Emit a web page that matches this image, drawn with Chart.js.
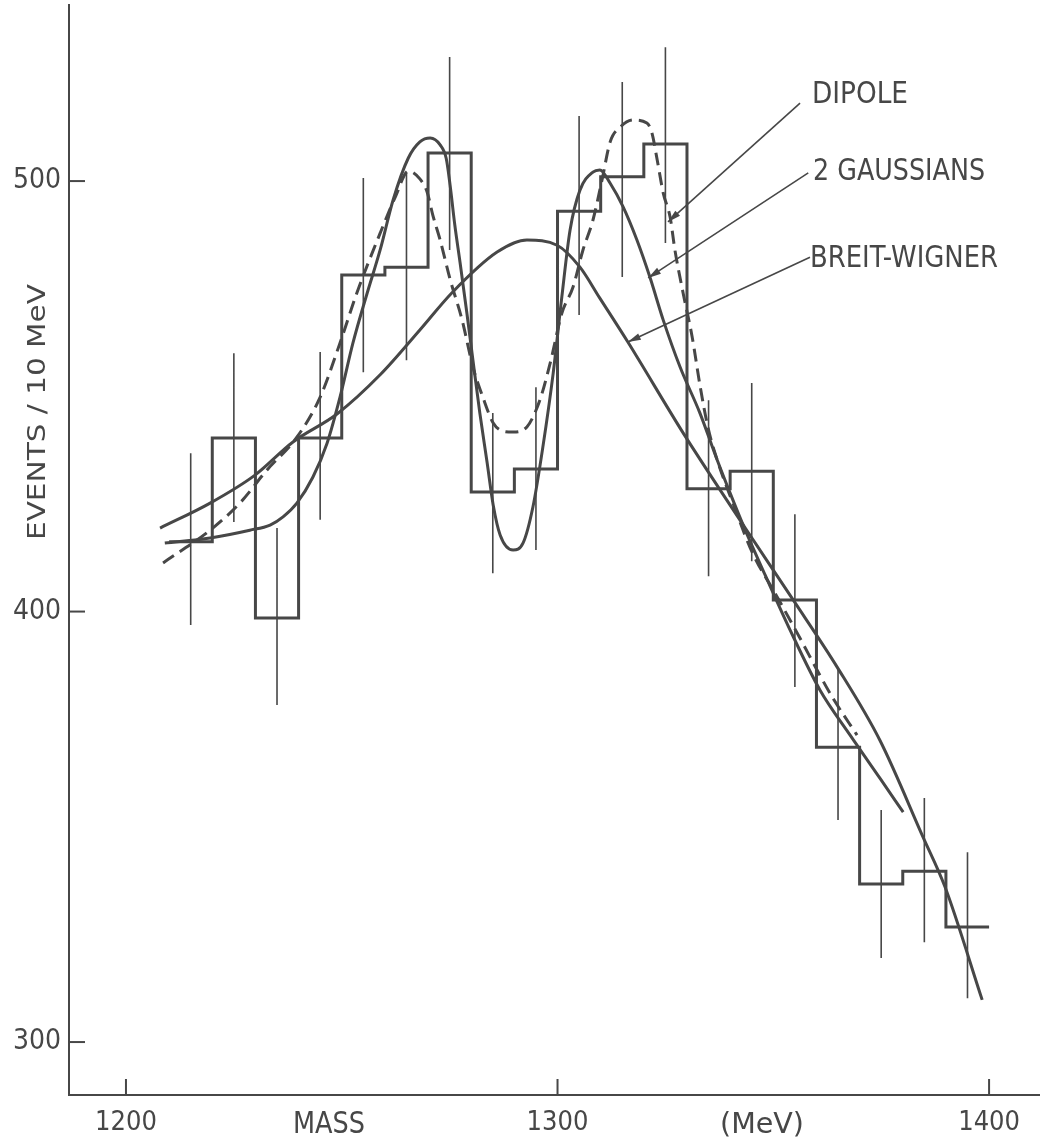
<!DOCTYPE html>
<html><head><meta charset="utf-8">
<script src="https://cdn.jsdelivr.net/npm/chart.js@4.4.1/dist/chart.umd.min.js"></script>
<style>html,body{margin:0;padding:0;background:#fff;}canvas{display:block;}</style>
</head><body>
<canvas id="c" width="1040" height="1137"></canvas>
<script>
// ---------- data ----------
const massBins = [1215,1225,1235,1245,1255,1265,1275,1285,1295,1305,1315,1325,1335,1345,1355,1365,1375,1385,1395];
const binWidth = 10;
const eventsPerBin = [416.2,440.3,398.5,440.3,478.2,480.0,506.5,427.8,433.1,493.0,501.0,508.6,428.5,432.6,402.7,368.5,336.7,339.7,326.7];
const errLow  = [396.9,420.8,378.3,421.3,455.6,458.4,484.0,408.9,414.3,468.9,477.7,485.6,408.2,411.7,382.5,351.6,319.5,323.2,310.2];
const errHigh = [436.8,460.0,419.4,460.3,500.7,501.9,528.8,446.1,452.1,515.1,523.0,531.1,449.1,453.1,422.6,387.1,353.9,356.7,344.1];

const bwMass   = [1207.9,1219.5,1229.9,1238.7,1248.9,1258.9,1268.1,1275.5,1286.0,1292.9,1299.9,1305.2,1309.8,1316.3,1329.1,1337.7,1343.5,1354.6,1364.8,1374.7,1384.7,1389.8,1398.4];
const bwEvents = [419.4,425.2,431.7,439.4,445.9,455.0,465.4,474.0,483.5,486.3,485.1,480.0,472.8,462.6,441.5,428.2,419.4,402.7,387.1,370.1,347.6,336.0,309.8];

const gaussMass   = [1209.0,1219.5,1228.7,1233.4,1236.4,1239.6,1243.3,1246.6,1249.6,1252.6,1255.9,1258.9,1261.9,1265.4,1268.1,1270.5,1272.8,1274.2,1275.1,1276.2,1277.4,1279.0,1280.4,1282.0,1283.7,1285.1,1286.7,1289.7,1292.0,1294.3,1296.6,1299.0,1301.0,1302.9,1305.2,1308.2,1309.8,1312.2,1315.2,1318.4,1321.4,1324.5,1328.4,1333.0,1337.0,1340.0,1343.5,1348.1,1353.9,1360.8,1367.8,1374.7,1380.1];
const gaussEvents = [415.9,417.1,418.9,420.1,422.0,425.2,431.2,439.1,449.8,462.4,474.0,484.0,495.6,505.3,509.1,510.0,508.4,505.3,499.1,489.8,481.2,469.3,458.4,446.1,434.5,424.7,417.8,414.3,415.9,424.3,438.2,455.4,473.1,488.6,497.9,502.1,502.6,499.5,494.0,486.3,477.7,467.7,456.8,446.1,435.2,427.5,418.9,408.5,395.7,381.8,371.3,361.3,353.4];

const dipoleMass   = [1208.6,1219.5,1226.4,1232.7,1239.6,1245.0,1249.6,1253.5,1258.9,1262.5,1265.4,1268.1,1269.8,1271.1,1272.8,1275.1,1277.9,1280.4,1282.7,1285.1,1287.4,1289.7,1292.9,1295.9,1298.3,1301.0,1303.6,1305.9,1308.2,1310.3,1312.2,1314.5,1317.5,1320.7,1321.9,1323.1,1324.5,1326.1,1327.2,1329.1,1331.2,1333.0,1334.9,1337.0,1341.1,1345.1,1350.9,1356.2,1360.8,1363.8,1369.4];
const dipoleEvents = [411.3,418.9,425.2,432.9,440.5,449.8,462.4,474.0,487.9,496.5,502.3,500.5,497.4,492.1,486.3,477.2,467.7,456.8,449.8,443.8,441.9,441.7,442.9,449.1,457.7,469.3,475.4,484.0,490.9,500.2,509.1,512.5,514.2,513.5,511.1,504.9,497.2,491.6,484.0,474.0,463.8,452.6,442.6,435.2,424.0,413.8,403.4,393.8,385.2,379.9,371.3];

const xTickValues = [1200,1300,1400];
const yTickValues = [300,400,500];
const curveNames = ['DIPOLE','2 GAUSSIANS','BREIT-WIGNER'];
// arrow tail/tip in data coordinates (mass, events)
const arrowTails = [[1356.2,518.1],[1358.1,501.9],[1358.5,482.3]];
const arrowTips  = [[1325.6,490.5],[1321.0,477.5],[1316.3,462.6]];

// ---------- styling / layout ----------
const ink = '#474747';
const fam = '"DejaVu Sans Condensed", "DejaVu Sans", sans-serif';
const labelBoxes = [ // left, right, centerY (pixels)
  [812,908,92],[813,985,169],[810,998,256]
];

const histPoints = massBins.map((m,i)=>({x:m-binWidth/2, y:eventsPerBin[i]}));
histPoints.push({x:massBins[massBins.length-1]+binWidth/2, y:eventsPerBin[eventsPerBin.length-1]});
const errPoints = [];
massBins.forEach((m,i)=>{ errPoints.push({x:m,y:errLow[i]},{x:m,y:errHigh[i]},{x:m,y:null}); });
const toXY = (xs,ys)=>xs.map((v,i)=>({x:v,y:ys[i]}));

function fitText(ctx, text, left, right, cy, size){
  ctx.font = size+'px '+fam;
  const w = ctx.measureText(text).width;
  const cap = size*0.729;
  ctx.save();
  ctx.translate(left, cy + cap/2);
  ctx.scale((right-left)/w, 1);
  ctx.textAlign='left'; ctx.textBaseline='alphabetic';
  ctx.fillText(text,0,0);
  ctx.restore();
}

const overlay = {
  id:'overlay',
  afterDraw(chart){
    const {ctx, scales:{x,y}, chartArea:a} = chart;
    ctx.save();
    ctx.strokeStyle = ink; ctx.fillStyle = ink; ctx.lineWidth = 2;
    yTickValues.forEach(v=>{const py=y.getPixelForValue(v);ctx.beginPath();ctx.moveTo(a.left,py);ctx.lineTo(a.left+16,py);ctx.stroke();});
    xTickValues.forEach(v=>{const px=x.getPixelForValue(v);ctx.beginPath();ctx.moveTo(px,a.bottom);ctx.lineTo(px,a.bottom-16);ctx.stroke();});
    // arrows
    ctx.lineWidth = 1.6;
    arrowTails.forEach((t,i)=>{
      const x0=x.getPixelForValue(t[0]), y0=y.getPixelForValue(t[1]);
      const x1=x.getPixelForValue(arrowTips[i][0]), y1=y.getPixelForValue(arrowTips[i][1]);
      ctx.beginPath();ctx.moveTo(x0,y0);ctx.lineTo(x1,y1);ctx.stroke();
      const ang=Math.atan2(y1-y0,x1-x0), L=13, W=3.5;
      const bx=x1-L*Math.cos(ang), by=y1-L*Math.sin(ang);
      ctx.beginPath();ctx.moveTo(x1,y1);
      ctx.lineTo(bx+W*Math.sin(ang), by-W*Math.cos(ang));
      ctx.lineTo(bx-W*Math.sin(ang), by+W*Math.cos(ang));
      ctx.closePath();ctx.fill();
    });
    // curve labels
    curveNames.forEach((n,i)=>{const b=labelBoxes[i]; fitText(ctx,n,b[0],b[1],b[2],30);});
    // axis words
    fitText(ctx,'MASS',293,365,1122,30);
    fitText(ctx,'(MeV)',720,804,1122,29);
    // y title
    ctx.save();
    ctx.translate(36, 412);
    ctx.rotate(-Math.PI/2);
    fitText(ctx,'EVENTS / 10 MeV',-128,128,0,25);
    ctx.restore();
    ctx.restore();
  }
};

new Chart(document.getElementById('c'), {
  type:'line',
  data:{datasets:[
    {label:'histogram', data:histPoints, stepped:'before', borderColor:ink, borderWidth:3, pointRadius:0, fill:false, tension:0},
    {label:'errors', data:errPoints, borderColor:ink, borderWidth:1.6, pointRadius:0, spanGaps:false, fill:false, tension:0},
    {label:'Breit-Wigner', data:toXY(bwMass,bwEvents), borderColor:ink, borderWidth:3, pointRadius:0, fill:false, cubicInterpolationMode:'monotone'},
    {label:'2 Gaussians', data:toXY(gaussMass,gaussEvents), borderColor:ink, borderWidth:3, pointRadius:0, fill:false, cubicInterpolationMode:'monotone'},
    {label:'Dipole', data:toXY(dipoleMass,dipoleEvents), borderColor:ink, borderWidth:3, borderDash:[13,7], pointRadius:0, fill:false, cubicInterpolationMode:'monotone'}
  ]},
  options:{
    responsive:false, animation:false, devicePixelRatio:1,
    layout:{padding:{top:5,left:0,right:0,bottom:0}, autoPadding:false},
    plugins:{legend:{display:false}, tooltip:{enabled:false}},
    scales:{
      x:{type:'linear', min:1186.8, max:1411.8,
         afterBuildTicks:s=>{s.ticks=xTickValues.map(v=>({value:v}));},
         afterFit:s=>{s.height=42; s.paddingLeft=0; s.paddingRight=0;},
         ticks:{color:ink, font:{family:fam,size:27}, padding:4, maxRotation:0, autoSkip:false, callback:v=>String(v)},
         grid:{display:false}, border:{display:true,color:ink,width:2}},
      y:{type:'linear', min:287.7, max:540.9,
         afterBuildTicks:s=>{s.ticks=yTickValues.map(v=>({value:v}));},
         afterFit:s=>{s.width=69; s.paddingTop=0; s.paddingBottom=0;},
         ticks:{color:ink, font:{family:fam,size:28}, padding:0, autoSkip:false, callback:v=>String(v)},
         grid:{display:false}, border:{display:true,color:ink,width:2}}
    }
  },
  plugins:[overlay]
});
</script>
</body></html>
